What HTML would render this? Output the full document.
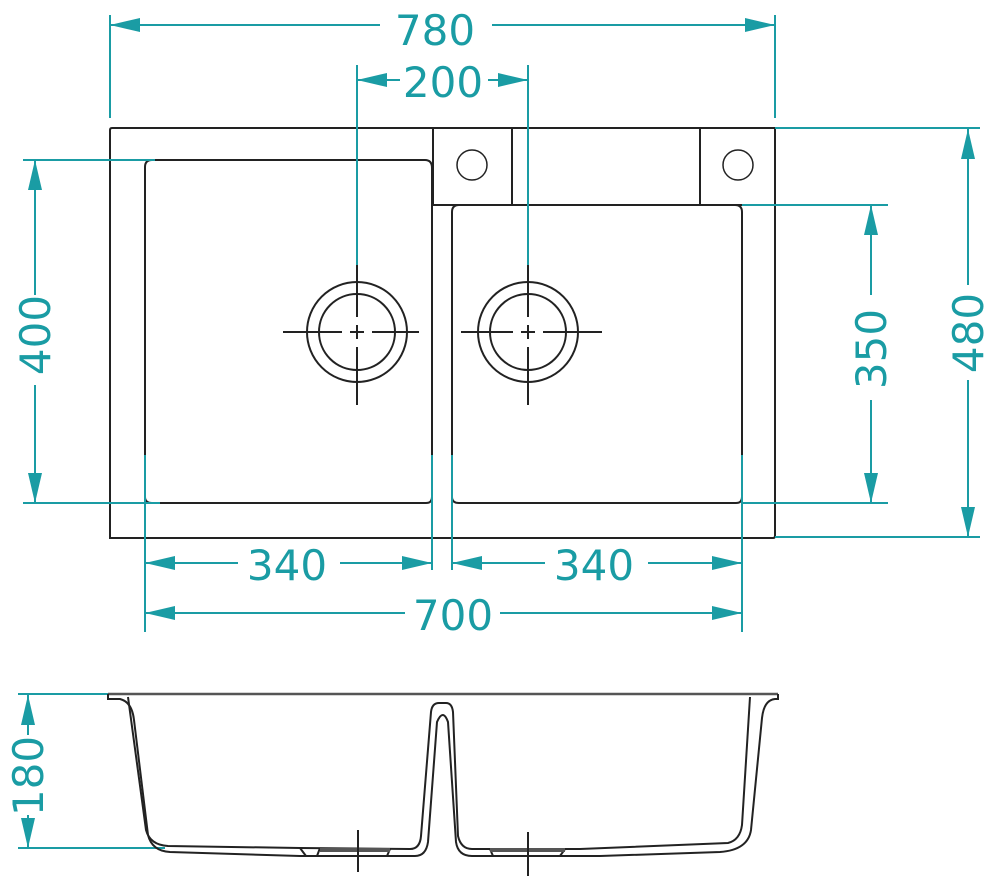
<!DOCTYPE html>
<html><head><meta charset="utf-8"><style>
html,body{margin:0;padding:0;background:#fff;}
svg{display:block;}
text{font-family:"DejaVu Sans","Liberation Sans",sans-serif;font-size:42px;fill:#1a9ca4;}
</style></head><body>
<svg width="1000" height="880" viewBox="0 0 1000 880" xmlns="http://www.w3.org/2000/svg">
<defs>
<marker id="a" viewBox="0 0 30 14" refX="30" refY="7" markerWidth="30" markerHeight="14" markerUnits="userSpaceOnUse" orient="auto-start-reverse">
<path d="M0,0 L30,7 L0,14 z" fill="#1a9ca4"/></marker>
</defs>
<g fill="none" stroke="#222" stroke-width="2">
<path d="M110,538 L110,130 Q110,128 112,128 L775,128 L775,536 Q775,538 773,538 Z"/>
<path d="M152,160 L425,160 Q432,160 432,168 L432,497 Q432,503 426,503 L152,503 Q145,503 145,497 L145,167 Q145,160 152,160 Z"/>
<path d="M459,205 L735,205 Q742,205 742,212 L742,497 Q742,503 736,503 L459,503 Q452,503 452,497 L452,212 Q452,205 459,205 Z"/>
<path d="M433,128 L433,205 L512,205 L512,128"/>
<path d="M700,128 L700,205 L775,205"/>
<circle cx="472" cy="165" r="15" stroke-width="1.5"/>
<circle cx="738" cy="165" r="15" stroke-width="1.5"/>
<circle cx="357" cy="332" r="50"/>
<circle cx="357" cy="332" r="38"/>
<circle cx="528" cy="332" r="50"/>
<circle cx="528" cy="332" r="38"/>
<path d="M283,332 H342 M350,332 H364 M372,332 H419 M357,265 V317 M357,325 V339 M357,347 V405"/>
<path d="M461,332 H513 M521,332 H535 M543,332 H602 M528,265 V317 M528,325 V339 M528,347 V405"/>
</g>
<g fill="none" stroke="#1a9ca4" stroke-width="2">
<path d="M110,15 V118 M775,15 V118"/>
<path d="M110,25 H380" marker-start="url(#a)"/><path d="M492,25 H775" marker-end="url(#a)"/>
<path d="M357,65 V265 M528,65 V265"/>
<path d="M357,80 H400" marker-start="url(#a)"/><path d="M488,80 H528" marker-end="url(#a)"/>
<path d="M23,160 H155 M23,503 H160"/>
<path d="M35,295 V160" marker-end="url(#a)"/><path d="M35,385 V503" marker-end="url(#a)"/>
<path d="M775,128 H980 M775,537 H980"/>
<path d="M968,285 V129" marker-end="url(#a)"/><path d="M968,380 V537" marker-end="url(#a)"/>
<path d="M742,205 H888 M742,503 H888"/>
<path d="M871,295 V205" marker-end="url(#a)"/><path d="M871,400 V503" marker-end="url(#a)"/>
<path d="M145,455 V632 M432,455 V570 M452,455 V570 M742,455 V632"/>
<path d="M238,563 H145" marker-end="url(#a)"/><path d="M340,563 H432" marker-end="url(#a)"/>
<path d="M545,563 H452" marker-end="url(#a)"/><path d="M648,563 H742" marker-end="url(#a)"/>
<path d="M405,613 H145" marker-end="url(#a)"/><path d="M500,613 H742" marker-end="url(#a)"/>
<path d="M18,694 H108 M18,848 H165"/>
<path d="M28,735 V695" marker-end="url(#a)"/><path d="M28,815 V848" marker-end="url(#a)"/>
</g>
<text x="435" y="45" text-anchor="middle">780</text>
<text x="443" y="97" text-anchor="middle">200</text>
<text x="287" y="580" text-anchor="middle">340</text>
<text x="594" y="580" text-anchor="middle">340</text>
<text x="453" y="630" text-anchor="middle">700</text>
<text transform="translate(50,335) rotate(-90)" text-anchor="middle">400</text>
<text transform="translate(886,349) rotate(-90)" text-anchor="middle">350</text>
<text transform="translate(983,333) rotate(-90)" text-anchor="middle">480</text>
<text transform="translate(43,776) rotate(-90)" text-anchor="middle">180</text>
<g fill="none" stroke="#222" stroke-width="2">
<path d="M108,694 L778,694" stroke="#555" stroke-width="2.5"/>
<!-- underside -->
<path d="M108,694 L108,699 L120,699 Q132,702 134,720 L148,835 Q152,851 170,852 L300,856 L415,856 Q426,856 428,842 L437,722 Q443,708 448,722 L456,842 Q458,856 472,856 L600,856 L720,852 Q748,850 751,830 L762,718 Q764,700 775,699 L778,699 L778,694"/>
<!-- interior -->
<path d="M128,697 L146,830 Q150,845 168,846 L300,848 L410,849 Q420,849 421,836 L431,712 Q432,703 439,703 L446,703 Q452,703 453,712 L458,836 Q461,849 472,849 L580,849 L728,843 Q740,840 742,825 L750,697"/>
<path d="M300,848 L306,856 M320,848 L317,856 M390,849 L387,856 M490,849 L493,856 M565,849 L560,856"/>
<path d="M320,850 H390 M490,850 H565" stroke="#555" stroke-width="4"/>
<path d="M358,830 V872 M528,832 V876"/>
</g>
</svg>
</body></html>
